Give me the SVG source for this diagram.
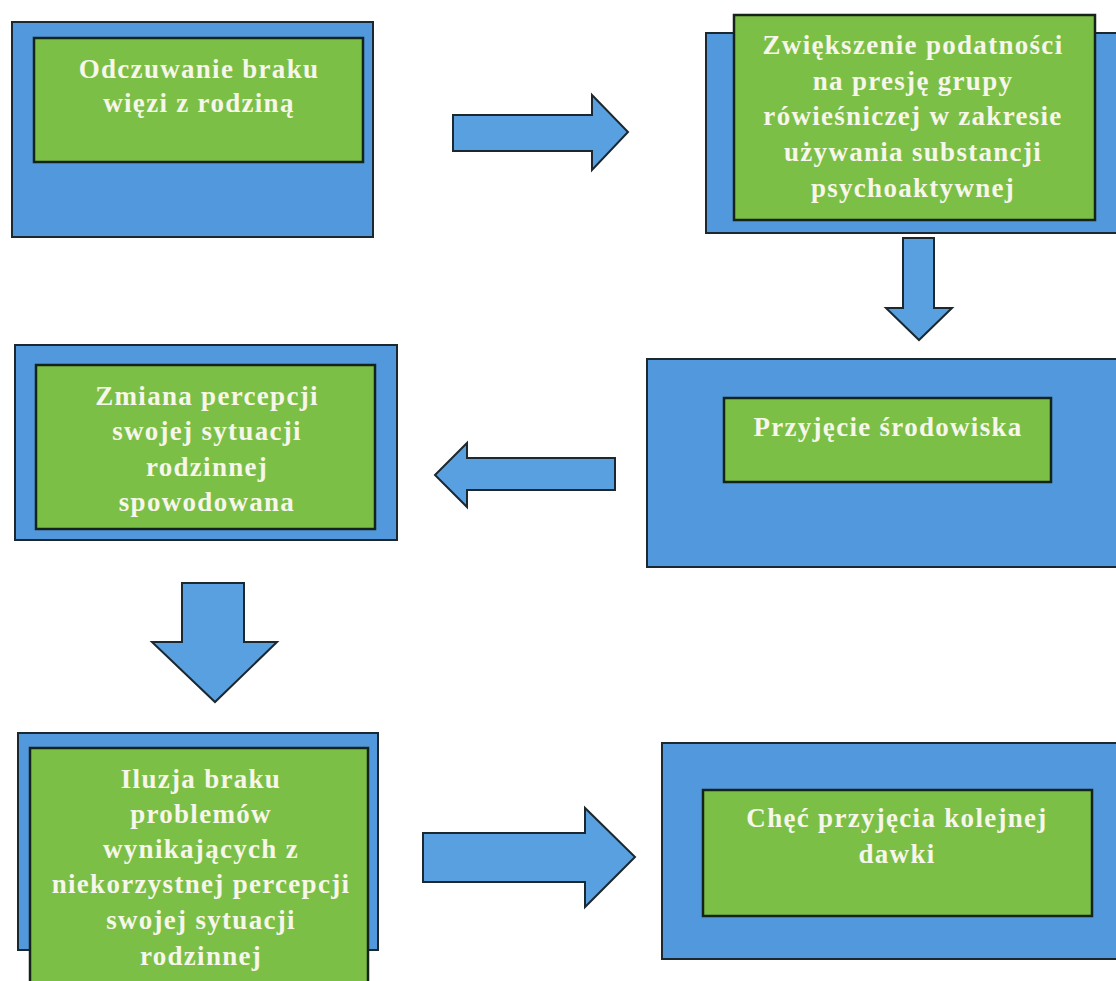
<svg xmlns="http://www.w3.org/2000/svg" width="1116" height="981" viewBox="0 0 1116 981">
<style>
.outer{fill:#5298dc;stroke:#1c2830;stroke-width:2}
.inner{fill:#7cbf46;stroke:#14241a;stroke-width:2.5}
.arrow{fill:#58a0e0;stroke:#1c2830;stroke-width:2;stroke-linejoin:miter}
text{font-family:"Liberation Serif","Times New Roman",serif;font-weight:bold;font-size:27px;letter-spacing:1.3px;fill:#f6f6ea;text-anchor:middle}
</style>
<rect width="1116" height="981" fill="#ffffff"/>
<g id="n1">
<rect class="outer" x="12" y="22" width="361" height="215"/>
<rect class="inner" x="34" y="38" width="329" height="124"/>
<text x="199" y="78">Odczuwanie braku</text>
<text x="199" y="112">więzi z rodziną</text>
</g>
<g id="n2">
<rect class="outer" x="706" y="33" width="416" height="200"/>
<rect class="inner" x="734" y="15" width="361" height="205"/>
<text x="913" y="54">Zwiększenie podatności</text>
<text x="913" y="90">na presję grupy</text>
<text x="913" y="125">rówieśniczej w zakresie</text>
<text x="913" y="161">używania substancji</text>
<text x="913" y="197">psychoaktywnej</text>
</g>
<g id="n3">
<rect class="outer" x="15" y="345" width="382" height="195"/>
<rect class="inner" x="36" y="365" width="339" height="164"/>
<text x="207" y="405">Zmiana percepcji</text>
<text x="207" y="440">swojej sytuacji</text>
<text x="207" y="476">rodzinnej</text>
<text x="207" y="511">spowodowana</text>
</g>
<g id="n4">
<rect class="outer" x="647" y="359" width="475" height="208"/>
<rect class="inner" x="724" y="398" width="327" height="84"/>
<text x="888" y="436">Przyjęcie środowiska</text>
</g>
<g id="n5">
<rect class="outer" x="18" y="733" width="360" height="217"/>
<rect class="inner" x="30" y="748" width="338" height="240"/>
<text x="201" y="788">Iluzja braku</text>
<text x="201" y="823">problemów</text>
<text x="201" y="858">wynikających z</text>
<text x="201" y="893">niekorzystnej percepcji</text>
<text x="201" y="929">swojej sytuacji</text>
<text x="201" y="965">rodzinnej</text>
</g>
<g id="n6">
<rect class="outer" x="662" y="743" width="460" height="216"/>
<rect class="inner" x="703" y="790" width="389" height="126"/>
<text x="897" y="827">Chęć przyjęcia kolejnej</text>
<text x="897" y="863">dawki</text>
</g>
<g id="connectors">
<polygon class="arrow" points="453,115 592,115 592,95 628,132 592,170 592,151 453,151"/>
<polygon class="arrow" points="903,238 934,238 934,308 952,308 919,340 886,308 903,308"/>
<polygon class="arrow" points="615,458 467,458 467,443 435,475 467,507 467,490 615,490"/>
<polygon class="arrow" points="182,583 244,583 244,642 277,642 215,702 152,642 182,642"/>
<polygon class="arrow" points="423,833 585,833 585,808 635,857 585,907 585,882 423,882"/>
</g>
</svg>
